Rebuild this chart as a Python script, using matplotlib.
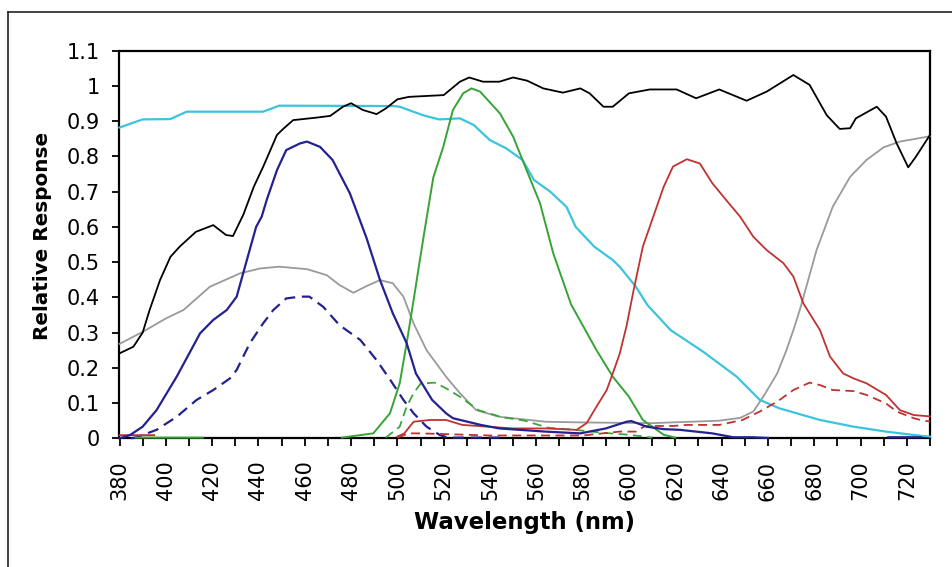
import numpy as np
import matplotlib
matplotlib.use("Agg")
import matplotlib.pyplot as plt
from matplotlib.lines import Line2D

nan = np.nan

# ---- data (wavelength nm, relative response) ----
black_x = [380, 386, 390, 393, 397.5, 402, 406, 413, 420.5, 426, 429, 433.5, 438, 442, 448, 451, 455,
           465, 471, 476.5, 480, 485, 491, 495, 500, 505, 520, 527, 531, 537, 544, 550, 556, 563,
           571.5, 579, 583, 589, 593, 600, 609, 620.6, 629, 639, 650.8, 659.5, 671, 678, 685.4,
           691, 695.5, 698, 707, 711, 715.6, 720.6, 724, 730]
black_y = [0.241, 0.26, 0.30, 0.364, 0.449, 0.515, 0.544, 0.586, 0.605, 0.577, 0.574, 0.635, 0.714, 0.77,
           0.861, 0.88, 0.903, 0.91, 0.915, 0.941, 0.951, 0.932, 0.92, 0.936, 0.962, 0.969, 0.974,
           1.012, 1.024, 1.012, 1.012, 1.024, 1.015, 0.993, 0.981, 0.993, 0.979, 0.941, 0.941, 0.979,
           0.99, 0.99, 0.965, 0.99, 0.958, 0.984, 1.031, 1.003, 0.917, 0.878, 0.88, 0.908, 0.941,
           0.913, 0.837, 0.769, 0.8, 0.861]

cyan_x = [380, 390, 402, 409, 442, 449, 498, 501, 511, 518, 527, 533, 540, 547, 554, 559, 566, 573,
          577, 585, 593, 596, 603, 608, 618, 632, 646.5, 656.5, 665, 682.5, 697, 711, 726, 730]
cyan_y = [0.882, 0.905, 0.906, 0.927, 0.927, 0.944, 0.943, 0.941, 0.917, 0.905, 0.908, 0.889, 0.846,
          0.823, 0.79, 0.733, 0.70, 0.657, 0.60, 0.544, 0.506, 0.487, 0.43, 0.378, 0.307, 0.246,
          0.175, 0.109, 0.085, 0.052, 0.033, 0.019, 0.007, 0.005]

blue_x = [380, 384.5, 390, 396, 404.7, 414.8, 420.5, 426.3, 430.6, 435, 439, 441.4, 443.6, 448, 452,
          458, 461, 466.6, 472, 479.5, 486.7, 492.5, 498, 504, 508, 515, 521, 524, 536, 544, 564,
          579, 590, 599, 601, 607.6, 615, 622, 636, 645, 653, 660, nan, 712, 726]
blue_y = [0.0, 0.009, 0.033, 0.08, 0.175, 0.298, 0.336, 0.364, 0.402, 0.506, 0.60, 0.629, 0.677,
          0.761, 0.818, 0.837, 0.842, 0.827, 0.79, 0.695, 0.568, 0.449, 0.355, 0.27, 0.184, 0.109,
          0.071, 0.057, 0.038, 0.028, 0.019, 0.014, 0.028, 0.047, 0.049, 0.033, 0.026, 0.024,
          0.014, 0.003, 0.003, 0.001, nan, 0.003, 0.003]

bluedash_x = [385, 387.4, 396, 404.7, 413.3, 420.5, 427.7, 430.6, 436.3, 442, 446.4, 452, 458, 462,
              468, 475, 484, 491, 497, 502.6, 507, 512.6, 518.4, 522, 545]
bluedash_y = [0.0, 0.003, 0.024, 0.061, 0.109, 0.137, 0.17, 0.194, 0.27, 0.326, 0.364, 0.397, 0.402,
              0.402, 0.373, 0.321, 0.279, 0.222, 0.165, 0.109, 0.071, 0.033, 0.009, 0.002, 0.002]

gray_x = [380, 390, 400, 407.6, 419, 432, 440.7, 449, 461, 469.5, 475, 481, 486.7, 492.5, 498, 502.6,
          507, 512.6, 521, 527, 534, 544, 550, 564, 580, 610, 639, 648, 653.7, 658, 664, 668, 671,
          674, 681, 688, 695.5, 702.6, 710, 717, 729, 730]
gray_y = [0.268, 0.302, 0.34, 0.364, 0.43, 0.468, 0.482, 0.487, 0.48, 0.463, 0.435, 0.413, 0.432,
          0.449, 0.44, 0.402, 0.326, 0.25, 0.175, 0.128, 0.08, 0.061, 0.057, 0.047, 0.045, 0.043,
          0.05, 0.058, 0.076, 0.118, 0.184, 0.25, 0.307, 0.369, 0.534, 0.657, 0.742, 0.79, 0.826,
          0.842, 0.856, 0.858]

green_x = [387, 416, nan, 476, 489.6, 496.8, 501, 504, 507, 509.8, 512, 515.5, 519.8, 524, 528.4, 532,
           535.7, 544.3, 550, 555.8, 561.6, 567.3, 575, 586, 593, 600, 606, 609, 615, 620]
green_y = [0.002, 0.002, nan, 0.002, 0.014, 0.071, 0.156, 0.27, 0.392, 0.51, 0.60, 0.74, 0.827, 0.932,
           0.979, 0.993, 0.984, 0.922, 0.856, 0.761, 0.667, 0.525, 0.38, 0.25, 0.175, 0.118, 0.052,
           0.038, 0.01, 0.002]

greendash_x = [495, 501, 504, 507, 510, 516, 521, 527, 535, 545, 555, 565, 575, 590, 600, 610]
greendash_y = [0.002, 0.033, 0.09, 0.128, 0.155, 0.158, 0.142, 0.118, 0.08, 0.06, 0.05, 0.03, 0.025,
               0.015, 0.01, 0.002]

red_x = [380, 395, nan, 500, 503, 507, 514, 521, 528, 550, 564, 577.4, 581.7, 586, 590.4, 593, 596,
         599, 602, 606, 610.5, 615, 619, 625, 630.6, 636, 642, 648, 653.7, 659.5, 666.7, 671, 675.3,
         682.5, 686.8, 692.5, 697, 702.6, 711, 717, 723, 728.5, 730]
red_y = [0.009, 0.009, nan, 0.005, 0.014, 0.047, 0.052, 0.052, 0.038, 0.028, 0.028, 0.024, 0.043, 0.09,
         0.137, 0.184, 0.24, 0.32, 0.42, 0.544, 0.629, 0.714, 0.771, 0.792, 0.78, 0.724, 0.676, 0.629,
         0.572, 0.534, 0.497, 0.459, 0.383, 0.307, 0.232, 0.184, 0.17, 0.156, 0.123, 0.08, 0.066,
         0.063, 0.062]

reddash_x = [500, 505, 510, 520, 540, 580, 596, 603, 607, 619, 625, 639, 649, 656.5, 664, 671, 678,
             682.5, 688, 697, 702.6, 711, 715.6, 723, 727, 730]
reddash_y = [0.002, 0.014, 0.014, 0.012, 0.008, 0.008, 0.019, 0.019, 0.035, 0.035, 0.038, 0.038, 0.052,
             0.076, 0.104, 0.137, 0.158, 0.151, 0.137, 0.134, 0.123, 0.099, 0.076, 0.057, 0.05, 0.048]

x_major = list(range(380, 721, 20))
x_minor = list(range(380, 731, 10))
y_ticks = [0, 0.1, 0.2, 0.3, 0.4, 0.5, 0.6, 0.7, 0.8, 0.9, 1.0, 1.1]
y_labels = ["0", "0.1", "0.2", "0.3", "0.4", "0.5", "0.6", "0.7", "0.8", "0.9", "1", "1.1"]

# ---- figure ----
W, H = 953, 567
fig = plt.figure(figsize=(W / 100, H / 100), dpi=100)
fig.patch.set_facecolor("white")

# partial figure frame (left & top)
fig.add_artist(Line2D([8.5 / W, 8.5 / W], [0, 1 - 12 / H], color="#222222", lw=1.2,
                      transform=fig.transFigure))
fig.add_artist(Line2D([8.5 / W, 1], [1 - 12 / H, 1 - 12 / H], color="#222222", lw=1.2,
                      transform=fig.transFigure))

left, right = 119.5 / W, 930 / W
bottom, top = 1 - 438.3 / H, 1 - 50.7 / H
ax = fig.add_axes([left, bottom, right - left, top - bottom])

lw = 1.3
dash = (5, 3)
kw = dict(zorder=3, clip_on=False)
ax.plot(gray_x, gray_y, color="#9a9a9a", lw=lw, **kw)
ax.plot(cyan_x, cyan_y, color="#3cc3dd", lw=lw + 0.3, **kw)
ax.plot(bluedash_x, bluedash_y, color="#23238f", lw=lw + 0.3, dashes=dash, **kw)
ax.plot(greendash_x, greendash_y, color="#3aa63a", lw=lw, dashes=dash, **kw)
ax.plot(reddash_x, reddash_y, color="#c03232", lw=lw, dashes=dash, **kw)
ax.plot(green_x, green_y, color="#36a336", lw=lw + 0.1, **kw)
ax.plot(red_x, red_y, color="#c03232", lw=lw, **kw)
ax.plot(blue_x, blue_y, color="#23238f", lw=lw + 0.3, **kw)
ax.plot(black_x, black_y, color="black", lw=lw, **kw)

ax.set_xlim(380, 730)
ax.set_ylim(0, 1.1)

ax.set_xticks(x_major)
ax.set_xticks(x_minor, minor=True)
ax.set_xticklabels([str(v) for v in x_major], rotation=90, fontsize=15, family="DejaVu Sans")
ax.set_yticks(y_ticks)
ax.set_yticklabels(y_labels, fontsize=15, family="DejaVu Sans")

ax.tick_params(axis="x", which="both", direction="out", length=5.5, width=1.3, pad=10.5)
ax.tick_params(axis="y", which="major", direction="out", length=5, width=1.3, pad=9)

for s in ax.spines.values():
    s.set_linewidth(1.6)
    s.set_color("black")

ax.set_xlabel("Wavelength (nm)", fontsize=16.4, fontweight="bold")
ax.xaxis.set_label_coords(0.5, (438.3 - 523) / 387.6)
ax.xaxis.label.set_va("center")
ax.set_ylabel("Relative Response", fontsize=14.4, fontweight="bold")
ax.yaxis.set_label_coords((43 - 119.5) / 810.5, (438.3 - 236) / 387.6)
ax.yaxis.label.set_va("center")

fig.savefig("out.png", dpi=100, facecolor="white")
